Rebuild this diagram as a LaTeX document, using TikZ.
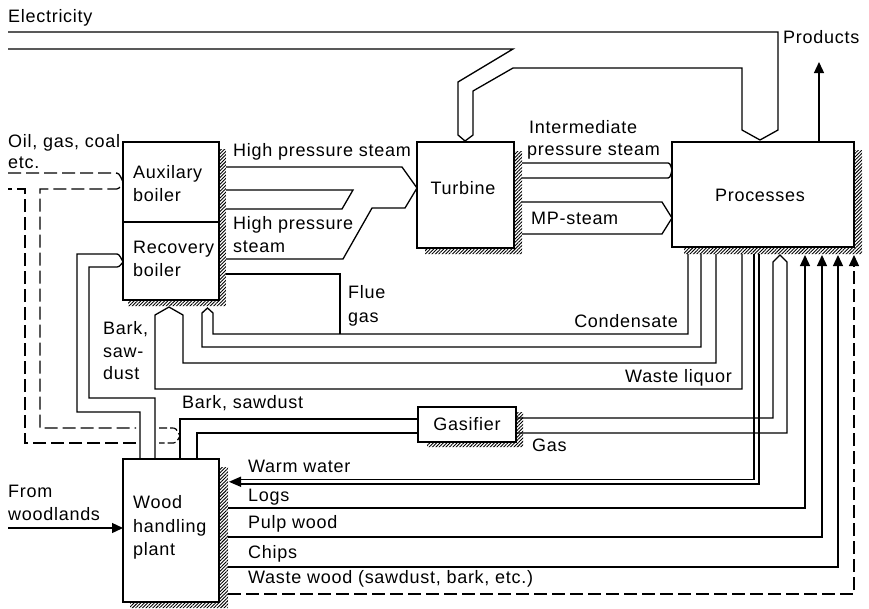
\documentclass[tikz,border=0pt]{standalone}
\usepackage{fontspec}
\setmainfont[LetterSpace=4]{Liberation Sans}
\usetikzlibrary{arrows.meta,patterns.meta}
\begin{document}
\begin{tikzpicture}[x=1pt,y=-1pt,
  ln/.style={line width=1.3pt, line join=miter},
  thin ln/.style={line width=1.1pt},
  dl/.style={line width=1.3pt, dash pattern=on 13pt off 5pt},
  box/.style={draw, line width=1.3pt, fill=white, inner sep=0pt, outer sep=0pt},
  shade/.style={pattern={Lines[angle=45,distance=2.4pt,line width=0.9pt]}},
  lbl/.style={inner sep=0pt, font=\fontsize{18}{22}\selectfont, anchor=base west},
  lblc/.style={lbl, anchor=base},
  lble/.style={lbl, anchor=base east},
  tip/.style={-{Triangle[length=11pt,width=10pt]}}]
\useasboundingbox[fill=white] (0,0) rectangle (869,608);

% ---- shadows
\fill[shade] (219,149) rectangle (226,306) (128,300) rectangle (226,306);
\fill[shade] (514,151) rectangle (522,254) (425,248) rectangle (522,254);
\fill[shade] (854,150) rectangle (862,254) (684,247) rectangle (862,254);
\fill[shade] (516,412) rectangle (523,447) (427,442) rectangle (523,447);
\fill[shade] (219,467) rectangle (228,608) (130,602) rectangle (228,608);

% ---- boxes
\node[box, minimum width=96pt, minimum height=158pt] (boiler) at (171,221) {};
\draw[ln] (boiler.west |- 0,222) -- (boiler.east |- 0,222);
\node[box, minimum width=97pt, minimum height=106pt] (turbine) at (465.5,195) {};
\node[box, minimum width=182pt, minimum height=105pt] (proc) at (763,194.5) {};
\node[box, minimum width=98pt, minimum height=35pt] (gasif) at (467,424.5) {};
\node[box, minimum width=96pt, minimum height=143pt] (wood) at (171,530.5) {};

% ---- electricity pipe
\draw[ln] (8,49) -- (513,49) -- (458,82) -- (458,135) -- (465,141) -- (473,135)
  -- (473,91) -- (513,68) -- (742,68) -- (742,130) -- (760,140) -- (778,130)
  -- (778,32) -- (8,32);

% ---- products
\draw[ln, tip] (819,142) -- (819,62);

% ---- oil, gas, coal (dashed)
\draw[dl] (8,173) -- (114,173) .. controls (119,173) .. (123,182)
  .. controls (119,189) .. (114,189) -- (40,189) -- (40,428) -- (136,428);
\draw[dl] (136,443) -- (25,443) -- (25,189) -- (8,189);
\draw[ln, line width=1.2pt, dash pattern=on 8pt off 3pt] (159,428) -- (171,428) .. controls (176,428) .. (180,436)
  .. controls (176,443) .. (171,443) -- (159,443);

% ---- high pressure steam
\draw[ln] (226,167) -- (402,167) -- (417,188) -- (405,208) -- (372,208) -- (343,259) -- (226,259);
\draw[ln] (226,190) -- (353,190) -- (342,209) -- (226,209);

% ---- flue gas
\draw[ln] (226,274) -- (340,274) -- (340,334);

% ---- turbine to processes
\draw[ln] (522,163) -- (666,163) .. controls (670,163) .. (672,170)
  .. controls (670,178) .. (666,178) -- (522,178);
\draw[ln] (522,202) -- (662,202) -- (672,218) -- (662,234) -- (522,234);

% ---- bark, sawdust to recovery boiler
\draw[ln] (140,459) -- (140,412) -- (77,412) -- (77,254) -- (115,254)
  .. controls (119,254) .. (123,262) .. controls (119,267) .. (115,267)
  -- (89,267) -- (89,398) -- (155,398) -- (155,459);

% ---- waste liquor
\draw[ln] (742,254) -- (742,389) -- (155,389) -- (155,315) -- (169,307) -- (183,315)
  -- (183,363) -- (716,363) -- (716,254);

% ---- condensate
\draw[ln] (688,254) -- (688,334) -- (213,334) -- (213,313) -- (207.5,308) -- (202,313)
  -- (202,347) -- (701,347) -- (701,254);

% ---- bark, sawdust to gasifier
\draw[ln] (180,459) -- (180,419) -- (418,419);
\draw[ln] (197,459) -- (197,433) -- (418,433);

% ---- gas to processes
\draw[ln] (516,418) -- (773,418) -- (773,262) -- (780,255) -- (787,262) -- (787,433) -- (516,433);

% ---- warm water
\draw[thin ln] (754,254) -- (754,479.5) -- (240,479.5);
\draw[thin ln] (759,254) -- (759,484) -- (240,484);
\fill (229,481.8) -- (241,476.5) -- (241,487) -- cycle;

% ---- wood products to processes
\draw[ln, tip] (228,508) -- (805,508) -- (805,255);
\draw[ln, tip] (228,537) -- (822,537) -- (822,255);
\draw[ln, tip] (228,567) -- (838,567) -- (838,255);
\draw[dl, tip] (228,594) -- (854,594) -- (854,255);

% ---- from woodlands
\draw[ln, tip] (8,528) -- (123,528);

% ---- labels
\node[lbl] (t1) at (8,22) {Electricity};
\node[lbl] (t2) at (783,43) {Products};
\node[lbl] (t3) at (8,147) {Oil, gas, coal};
\node[lbl] (t4) at (8,168) {etc.};
\node[lbl] (t5) at (133,178) {Auxilary};
\node[lbl] (t6) at (133,201) {boiler};
\node[lbl] (t7) at (133,253) {Recovery};
\node[lbl] (t8) at (133,276) {boiler};
\node[lbl] (t9) at (233,156) {High pressure steam};
\node[lbl] (t10) at (233,229) {High pressure};
\node[lbl] (t11) at (233,252) {steam};
\node[lblc] (t12) at (463,194) {Turbine};
\node[lbl] (t13) at (529,133) {Intermediate};
\node[lbl] (t14) at (527,155) {pressure steam};
\node[lbl] (t15) at (531,224) {MP-steam};
\node[lblc] (t16) at (760,201) {Processes};
\node[lbl] (t17) at (348,298) {Flue};
\node[lbl] (t18) at (348,322) {gas};
\node[lbl] (t19) at (103,334) {Bark,};
\node[lbl] (t20) at (103,357) {saw-};
\node[lbl] (t21) at (103,379) {dust};
\node[lble] (t22) at (678,327) {Condensate};
\node[lble] (t23) at (732,382) {Waste liquor};
\node[lbl] (t24) at (182,408) {Bark, sawdust};
\node[lblc] (t25) at (467,430) {Gasifier};
\node[lbl] (t26) at (532,451) {Gas};
\node[lbl] (t27) at (248,472) {Warm water};
\node[lbl] (t28) at (248,501) {Logs};
\node[lbl] (t29) at (248,528) {Pulp wood};
\node[lbl] (t30) at (248,558) {Chips};
\node[lbl] (t31) at (248,583) {Waste wood (sawdust, bark, etc.)};
\node[lbl] (t32) at (8,497) {From};
\node[lbl] (t33) at (8,520) {woodlands};
\node[lbl] (t34) at (133,508) {Wood};
\node[lbl] (t35) at (133,532) {handling};
\node[lbl] (t36) at (133,555) {plant};
\end{tikzpicture}
\end{document}
